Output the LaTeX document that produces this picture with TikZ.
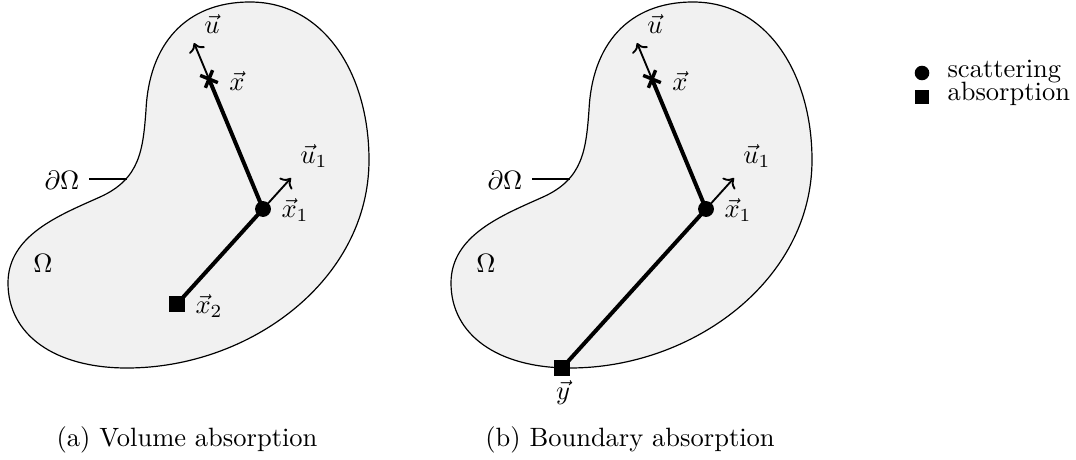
\documentclass[tikz,border=0pt]{standalone}
\usetikzlibrary{arrows.meta,shapes.misc}
\definecolor{blobfill}{gray}{0.945}
\tikzset{
  blob/.style={draw=black, line width=0.45pt, fill=blobfill},
  trackline/.style={line width=1.5pt},
  dirarrow/.style={line width=0.7pt, -{To[length=3.2pt,width=6.4pt]}},
  scat/.style={circle, fill=black, inner sep=0pt, minimum size=6pt},
  absb/.style={rectangle, fill=black, inner sep=0pt, minimum size=6.2pt},
  xmark/.style={cross out, draw=black, line width=1.3pt, inner sep=0pt, minimum size=3.8pt, rotate=112.7},
  lbl/.style={inner sep=0pt},
  leader/.style={line width=0.45pt},
}
\newcommand{\blobshape}{(250,2) .. controls (325,2) and (369,75) .. (369,160)
  .. controls (369,280) and (250,368) .. (127,368)
  .. controls (55,368) and (8,335) .. (8,283)
  .. controls (8,235) and (60,215) .. (100,197)
  .. controls (140,179) and (143,150) .. (146,110)
  .. controls (149,45) and (185,2) .. (250,2) -- cycle}
\begin{document}
\begin{tikzpicture}[x=0.3773pt,y=-0.3773pt]
\useasboundingbox (0,0) rectangle (1076,460);
% ---------- panel (a)
\begin{scope}[name prefix=a-]
  \draw[blob] \blobshape;
  \coordinate (x) at (209,79);
  \node[scat] (x1) at (263,209) {};
  \node[absb] (x2) at (177,304) {};
  \coordinate (u) at (194,43);
  \coordinate (u1) at (291,178);
  \draw[trackline] (x2.center) -- (x1.center) -- (x);
  \draw[dirarrow] (x) -- (u);
  \draw[dirarrow] (x1.center) -- (u1);
  \node[xmark] (xm) at (x) {};
  \node[lbl] (lu) at (212,24) {$\vec{u}$};
  \node[lbl] (lx) at (237,81) {$\vec{x}$};
  \node[lbl] (lu1) at (314,156) {$\vec{u}_1$};
  \node[lbl] (lx1) at (295,210) {$\vec{x}_1$};
  \node[lbl] (lx2) at (209,306) {$\vec{x}_2$};
  \node[lbl] (dO) at (62,180) {$\partial\Omega$};
  \coordinate (dOe) at (127,179);
  \draw[leader] (89,179) -- (dOe);
  \node[lbl] (O) at (43,263) {$\Omega$};
  \node[anchor=base, inner sep=0pt] (capa) at (187,446) {(a) Volume absorption};
\end{scope}
% ---------- panel (b)
\begin{scope}[shift={(443,0)}, name prefix=b-]
  \draw[blob] \blobshape;
  \coordinate (x) at (209,79);
  \node[scat] (x1) at (263,209) {};
  \node[absb] (y) at (119,368) {};
  \coordinate (u) at (194,43);
  \coordinate (u1) at (291,178);
  \draw[trackline] (y.center) -- (x1.center) -- (x);
  \draw[dirarrow] (x) -- (u);
  \draw[dirarrow] (x1.center) -- (u1);
  \node[xmark] (xm) at (x) {};
  \node[lbl] (lu) at (212,24) {$\vec{u}$};
  \node[lbl] (lx) at (237,81) {$\vec{x}$};
  \node[lbl] (lu1) at (314,156) {$\vec{u}_1$};
  \node[lbl] (lx1) at (295,210) {$\vec{x}_1$};
  \node[lbl] (ly) at (120,393) {$\vec{y}$};
  \node[lbl] (dO) at (62,180) {$\partial\Omega$};
  \coordinate (dOe) at (127,179);
  \draw[leader] (89,179) -- (dOe);
  \node[lbl] (O) at (43,263) {$\Omega$};
  \node[anchor=base, inner sep=0pt] (capb) at (187,446) {(b) Boundary absorption};
\end{scope}
% ---------- legend
\node[scat, minimum size=5.5pt] (legs) at (922,73) {};
\node[anchor=base west, inner sep=0pt] (legst) at (947,78) {scattering};
\node[absb, minimum size=5.5pt] (lega) at (922,97) {};
\node[anchor=base west, inner sep=0pt] (legat) at (947,101) {absorption};
\end{tikzpicture}
\end{document}
